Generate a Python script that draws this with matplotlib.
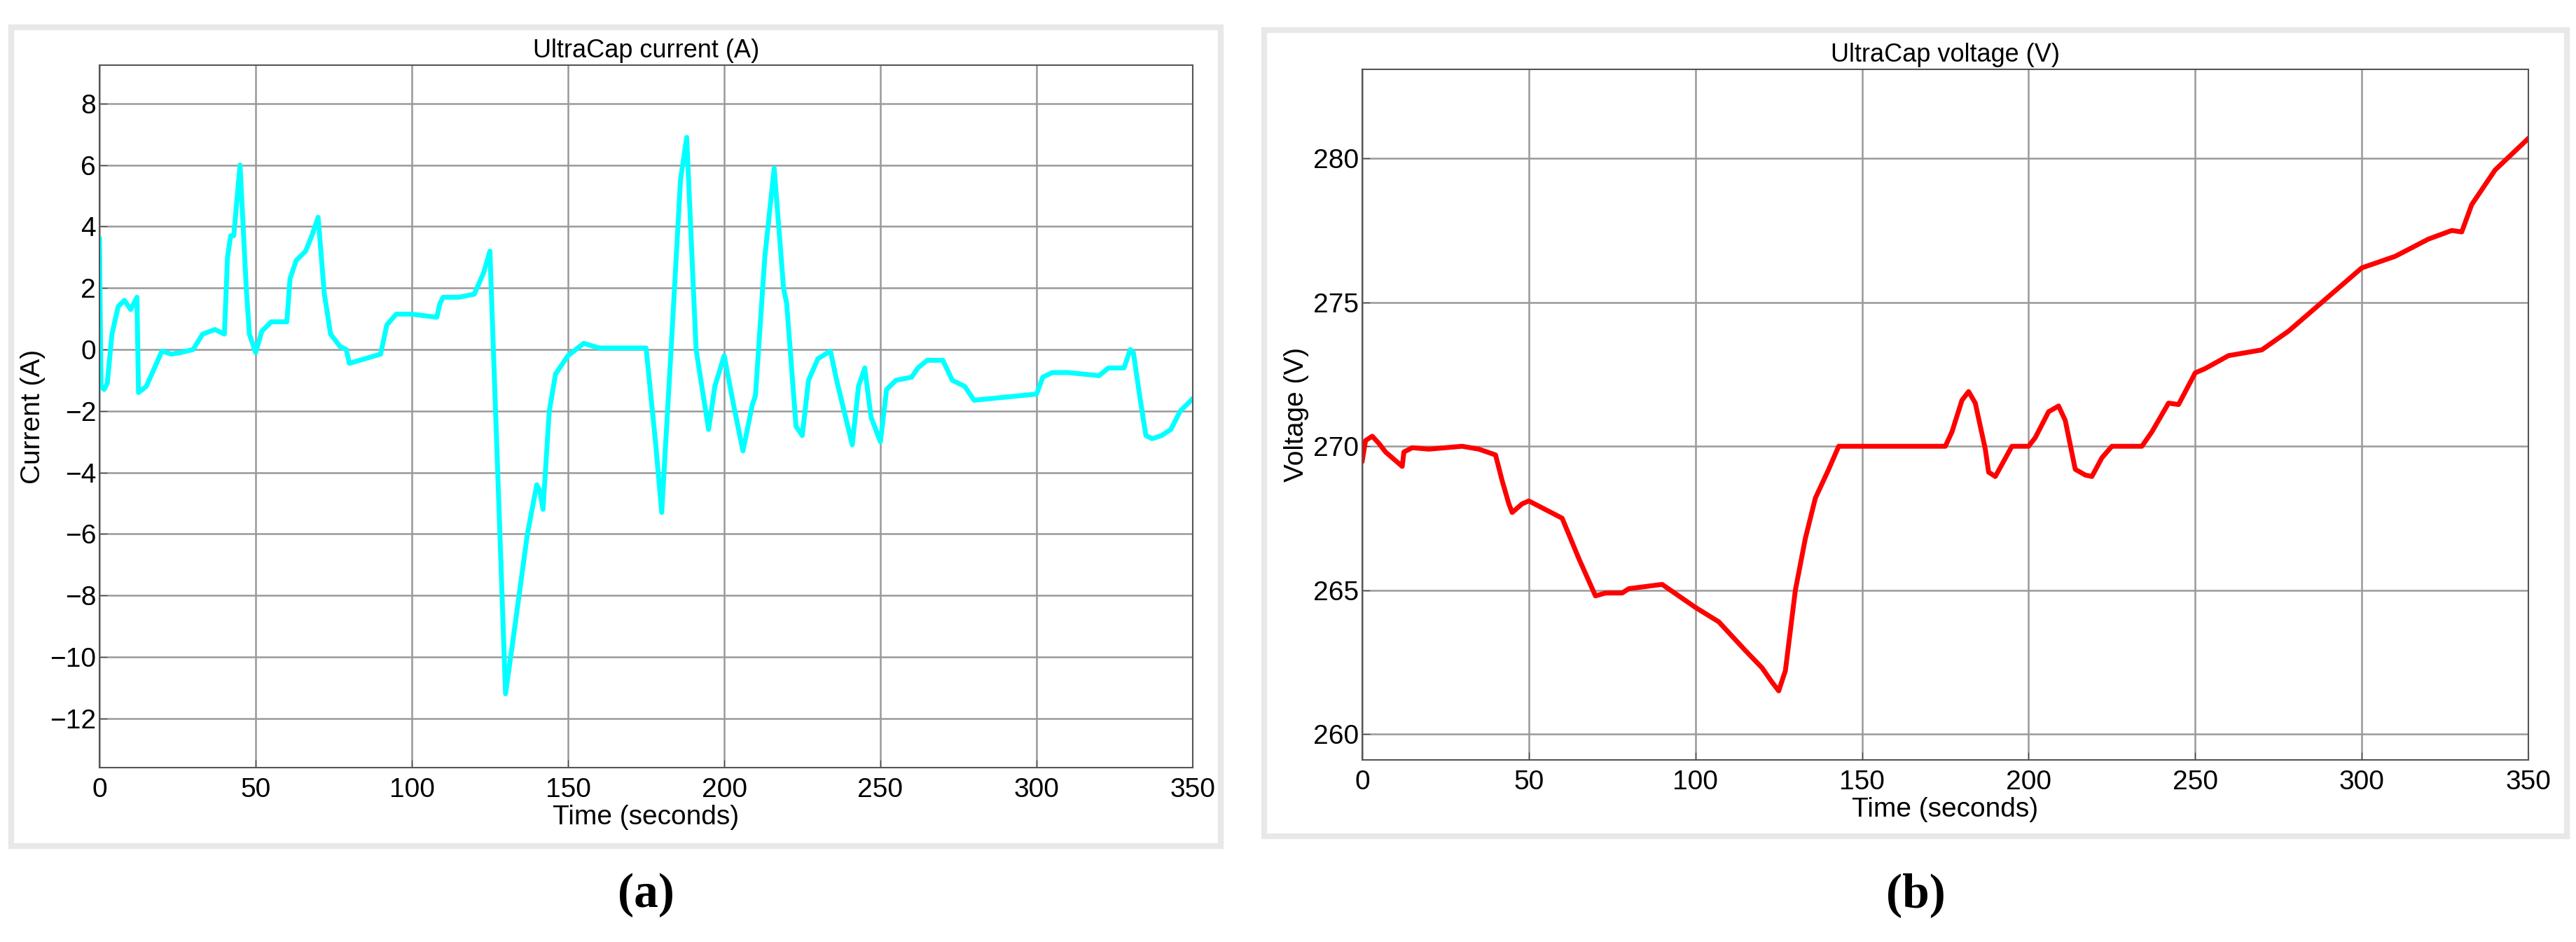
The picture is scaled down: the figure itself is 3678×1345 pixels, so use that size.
import matplotlib.pyplot as plt
from matplotlib.patches import Rectangle

# UltraCap current (A)
t_cur = [0, 0.5, 1.5, 2.5, 4, 6, 8, 10, 12, 12.5, 15, 20, 23, 26, 30, 33, 37, 40, 41, 42, 43, 45, 47, 48, 50,
         52, 55, 60, 61, 63, 66, 68, 70, 72, 74, 77, 79, 80, 85, 90, 92, 95, 100, 108, 109, 110, 115, 120, 123,
         125, 130, 133, 137, 140, 141, 142, 144, 146, 150, 155, 160, 175, 178, 180, 183, 186, 188, 191, 195, 197,
         200, 203, 206, 209, 210, 213, 216, 219, 220, 223, 225, 227, 230, 234, 236, 241, 243, 245, 247, 250, 252,
         255, 260, 262, 265, 270, 273, 277, 279, 280, 300, 302, 305, 310, 320, 323, 328, 330, 331, 333, 335, 337,
         340, 343, 346, 350]
current = [3.6, -1.2, -1.3, -1.1, 0.5, 1.4, 1.6, 1.3, 1.7, -1.4, -1.2, -0.05, -0.15, -0.1, 0, 0.5, 0.65, 0.5,
           3.0, 3.7, 3.7, 6.0, 2.0, 0.5, -0.1, 0.6, 0.9, 0.9, 2.3, 2.9, 3.2, 3.7, 4.3, 1.8, 0.5, 0.1, 0.0, -0.45,
           -0.3, -0.15, 0.8, 1.15, 1.15, 1.05, 1.5, 1.7, 1.7, 1.8, 2.5, 3.2, -11.2, -9, -6, -4.4, -4.6, -5.2, -2,
           -0.8, -0.2, 0.2, 0.05, 0.05, -3, -5.3, 0, 5.5, 6.9, 0, -2.6, -1.2, -0.2, -1.8, -3.3, -1.8, -1.5, 3.0,
           5.9, 2.0, 1.5, -2.5, -2.8, -1.0, -0.3, -0.05, -1.0, -3.1, -1.2, -0.6, -2.2, -3.0, -1.3, -1.0, -0.9,
           -0.6, -0.35, -0.35, -1.0, -1.2, -1.5, -1.65, -1.45, -0.9, -0.75, -0.75, -0.85, -0.6, -0.6, 0, -0.1,
           -1.5, -2.8, -2.9, -2.8, -2.6, -2.0, -1.6]

# UltraCap voltage (V)
t_volt = [0, 1, 3, 5, 7, 10, 12, 12.5, 15, 20, 30, 35, 40, 42, 44, 45, 48, 50, 60, 65, 70, 73, 78, 80, 90, 95,
          100, 107, 115, 120, 123, 125, 127, 130, 133, 136, 140, 143, 175, 177, 180, 182, 184, 187, 188, 190, 195,
          200, 202, 206, 209, 211, 214, 217, 219, 222, 225, 234, 237, 242, 245, 250, 253, 260, 270, 278, 290, 300,
          310, 320, 327, 330, 333, 340, 350]
voltage = [269.5, 270.2, 270.35, 270.1, 269.8, 269.5, 269.3, 269.8, 269.95, 269.9, 270.0, 269.9, 269.7, 268.8,
           268.0, 267.7, 268.0, 268.1, 267.5, 266.1, 264.8, 264.9, 264.9, 265.05, 265.2, 264.8, 264.4, 263.9,
           262.9, 262.3, 261.8, 261.5, 262.2, 265, 266.8, 268.2, 269.2, 270.0, 270.0, 270.5, 271.6, 271.9, 271.5,
           269.9, 269.1, 268.95, 270.0, 270.0, 270.3, 271.2, 271.4, 270.9, 269.2, 269.0, 268.95, 269.6, 270.0,
           270.0, 270.5, 271.5, 271.45, 272.55, 272.7, 273.15, 273.35, 274.0, 275.2, 276.2, 276.6, 277.2, 277.5,
           277.45, 278.4, 279.6, 280.7]

xticks = [0, 50, 100, 150, 200, 250, 300, 350]

W, H = 3678, 1345
plt.rcParams['font.family'] = ['Liberation Sans', 'DejaVu Sans']
fig = plt.figure(figsize=(W / 100, H / 100), dpi=100)

# light gray panel frames (pixel boxes: x0, y0, x1, y1 from top)
for x0, y0, x1, y1 in [(16, 39, 1743, 1208), (1805, 43, 3665, 1194)]:
    fig.patches.append(Rectangle((x0 / W, 1 - y1 / H), (x1 - x0) / W, (y1 - y0) / H,
                                 transform=fig.transFigure, fill=False, edgecolor='#e8e8e8', lw=6))

ax1 = fig.add_axes([142 / W, 1 - 1096 / H, 1561 / W, 1003 / H])
ax2 = fig.add_axes([1945 / W, 1 - 1085 / H, 1665 / W, 986 / H])

ax1.plot(t_cur, current, color='#00ffff', lw=5)
ax1.set_ylim(-13.6, 9.25)
ax1.set_yticks(range(-12, 9, 2))
ax1.set_title('UltraCap current (A)', fontsize=26, pad=8)
ax1.set_ylabel('Current (A)', fontsize=28)

ax2.plot(t_volt, voltage, color='#ff0000', lw=5)
ax2.set_ylim(259.1, 283.1)
ax2.set_yticks([260, 265, 270, 275, 280])
ax2.set_title('UltraCap voltage (V)', fontsize=26, pad=8)
ax2.set_ylabel('Voltage (V)', fontsize=28)

for ax in (ax1, ax2):
    ax.set_xlim(0, 350)
    ax.set_xticks(xticks)
    ax.set_xlabel('Time (seconds)', fontsize=28, labelpad=2)
    ax.tick_params(labelsize=28, direction='in', length=8, color='#444444')
    ax.tick_params(axis='x', pad=10)
    ax.grid(True, color='#999999', lw=1.8)
    for s in ax.spines.values():
        s.set_color('#555555')
        s.set_linewidth(1.5)

fig.text(922 / W, 1 - 1278 / H, '(a)', family='Liberation Serif', fontsize=50, fontweight='bold',
         ha='center', va='center')
fig.text(2735 / W, 1 - 1278 / H, '(b)', family='Liberation Serif', fontsize=50, fontweight='bold',
         ha='center', va='center')

fig.savefig('out.png')
